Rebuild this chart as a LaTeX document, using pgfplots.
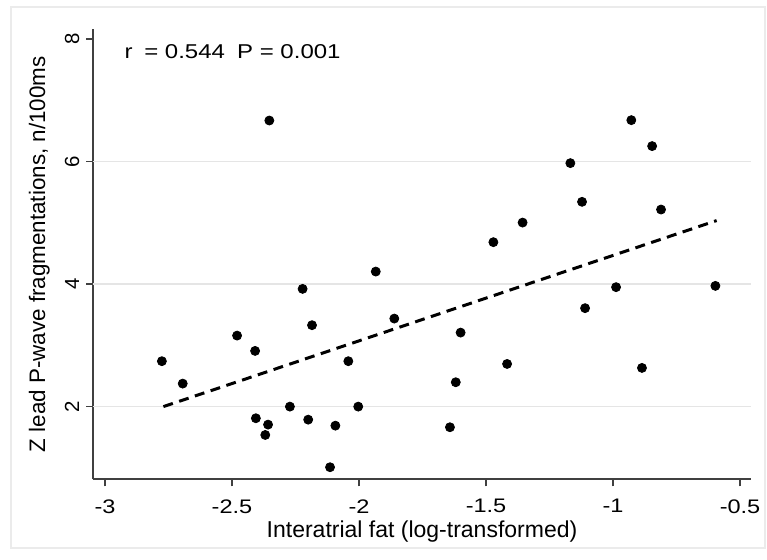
\documentclass[border=0pt]{standalone}
\usepackage{fontspec}
\setmainfont{Liberation Sans}
\newfontfamily\widefont[FakeStretch=1.2]{Liberation Sans}
\usepackage{pgfplots}
\pgfplotsset{compat=1.18}

\begin{document}
\begin{tikzpicture}
\path[use as bounding box, fill=white] (-46.65pt,-40.35pt) rectangle (336.85pt,239.65pt);
\draw[black!8, line width=0.8pt] (-41.15pt,-34.35pt) rectangle (335.85pt,236.15pt);
\begin{axis}[
  scale only axis, width=328.7pt, height=225pt,
  xmin=-3.046, xmax=-0.458, ymin=0.81, ymax=8.16,
  axis lines*=left,
  axis line style={black!75, line width=0.8pt},
  tick style={black!75, line width=0.8pt},
  tick align=outside, major tick length=3.5pt,
  xtick={-3,-2.5,-2,-1.5,-1,-0.5},
  ytick={2,4,6,8},
  xticklabels={-3,-2.5,-2,-1.5,-1,-0.5},
  yticklabels={2,4,6,8},
  /pgf/number format/assume math mode=true,
  xticklabel style={font=\widefont\fontsize{9.8}{12}\selectfont, yshift=-3pt},
  yticklabel style={font=\fontsize{10.2}{12}\selectfont, rotate=90, anchor=south},
  extra y ticks={2,4,6}, extra y tick labels={},
  extra y tick style={grid=major, major tick length=0pt},
  major grid style={black!10, line width=0.6pt},
  xlabel={Interatrial fat (log-transformed)},
  ylabel={Z lead P-wave fragmentations, n/100ms},
  xlabel style={font=\fontsize{11.5}{13}\selectfont, at={(axis description cs:0.5,-0.117)}, anchor=center},
  ylabel style={font=\fontsize{11.2}{13}\selectfont, at={(axis description cs:-0.082,0.5)}, anchor=center},
  clip=false,
]
\addplot[only marks, mark=*, mark size=2.25pt, black] coordinates {
(-2.353,6.670) (-1.934,4.203) (-0.928,6.676) (-0.846,6.252) (-1.168,5.974)
(-1.122,5.342) (-0.811,5.216) (-1.356,5.003) (-1.471,4.683) (-2.222,3.920)
(-1.861,3.435) (-2.185,3.327) (-2.480,3.157) (-2.409,2.907) (-2.776,2.739)
(-2.042,2.739) (-2.694,2.373) (-2.272,1.997) (-2.003,1.997) (-2.406,1.807)
(-2.200,1.784) (-2.358,1.703) (-2.093,1.686) (-2.369,1.534) (-2.114,1.007)
(-1.600,3.206) (-1.417,2.694) (-1.619,2.395) (-1.642,1.660) (-0.988,3.948)
(-0.597,3.969) (-1.110,3.605) (-0.886,2.629)
};
% linear fit
\addplot[black, line width=1.5pt, dash pattern=on 5pt off 3.3pt] coordinates {
(-2.770,1.997) (-0.592,5.036)
};
\node[anchor=west, inner sep=0pt, font=\widefont\fontsize{10}{12}\selectfont]
  at (rel axis cs:0.047,0.9496) {r\hspace{2.5pt} = 0.544};
\node[anchor=west, inner sep=0pt, font=\widefont\fontsize{10}{12}\selectfont]
  at (rel axis cs:0.2182,0.9496) {P = 0.001};
\end{axis}
\end{tikzpicture}
\end{document}
